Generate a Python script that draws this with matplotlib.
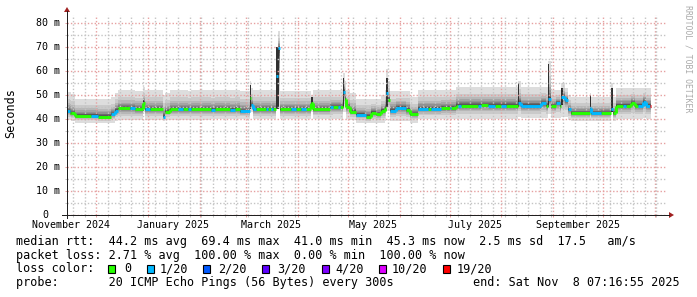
#!/usr/bin/python
"""Smokeping style 360 day latency graph (median rtt, smoke, loss colour)."""
import datetime as dt

import matplotlib
matplotlib.use("Agg")
from matplotlib import pyplot as plt
from matplotlib import dates as mdates
from matplotlib import ticker, transforms
from matplotlib.collections import LineCollection
from matplotlib.lines import Line2D
from matplotlib.patches import Polygon, Rectangle
import numpy as np

# Graph window ("Last 360 Days").
GRAPH_END = dt.datetime(2025, 11, 8, 7, 16, 55)
GRAPH_START = GRAPH_END - dt.timedelta(days=360)

# Consolidated data, one row per stretch of equal value.
seg_start = [
    "2024-11-13", "2024-11-15", "2024-11-16", "2024-11-18", "2024-11-28", "2024-12-02",
    "2024-12-10", "2024-12-12", "2024-12-14", "2024-12-21", "2024-12-24", "2024-12-29",
    "2024-12-30", "2025-01-02", "2025-01-10", "2025-01-11", "2025-01-14", "2025-01-19",
    "2025-01-22", "2025-01-25", "2025-01-27", "2025-02-08", "2025-02-10", "2025-02-19",
    "2025-02-22", "2025-02-25", "2025-03-03", "2025-03-04", "2025-03-05", "2025-03-07",
    "2025-03-13", "2025-03-14", "2025-03-16", "2025-03-17", "2025-03-19", "2025-03-20",
    "2025-03-21", "2025-03-28", "2025-03-31", "2025-04-03", "2025-04-06", "2025-04-09",
    "2025-04-10", "2025-04-20", "2025-04-22", "2025-04-25", "2025-04-26", "2025-04-28",
    "2025-04-29", "2025-04-30", "2025-05-02", "2025-05-06", "2025-05-12", "2025-05-15",
    "2025-05-18", "2025-05-21", "2025-05-23", "2025-05-24", "2025-05-25", "2025-05-26",
    "2025-05-30", "2025-06-05", "2025-06-07", "2025-06-12", "2025-06-18", "2025-06-20",
    "2025-06-26", "2025-07-01", "2025-07-02", "2025-07-05", "2025-07-06", "2025-07-08",
    "2025-07-18", "2025-07-20", "2025-07-24", "2025-07-28", "2025-08-01", "2025-08-04",
    "2025-08-11", "2025-08-13", "2025-08-25", "2025-08-28", "2025-08-29", "2025-08-31",
    "2025-09-03", "2025-09-05", "2025-09-06", "2025-09-08", "2025-09-10", "2025-09-12",
    "2025-09-23", "2025-09-24", "2025-09-30", "2025-10-06", "2025-10-07", "2025-10-09",
    "2025-10-13", "2025-10-15", "2025-10-18", "2025-10-20", "2025-10-22", "2025-10-25",
    "2025-10-27", "2025-10-29",
]
data_end = "2025-10-30"

# median rtt in ms
median_ms = [
    43.2, 42.6, 42.3, 41.3, 41.3, 41.0,
    42.0, 43.5, 44.4, 44.4, 44.2, 46.5,
    44.0, 44.0, 41.0, 43.0, 44.0, 44.0,
    44.0, 44.0, 44.0, 43.8, 44.0, 43.8,
    44.0, 43.3, 48.9, 45.8, 44.0, 44.0,
    44.0, 44.0, 44.0, 44.0, 57.9, 69.4,
    44.0, 44.0, 44.0, 44.0, 44.0, 46.5,
    44.0, 44.9, 45.0, 45.0, 45.0, 51.4,
    48.3, 45.0, 43.0, 41.8, 41.0, 42.7,
    42.0, 43.5, 44.5, 51.0, 48.0, 43.5,
    44.7, 43.8, 42.0, 44.2, 44.2, 44.2,
    44.7, 44.7, 44.7, 45.6, 45.6, 45.6,
    45.6, 45.8, 45.6, 45.6, 45.6, 45.6,
    46.7, 45.5, 46.7, 45.5, 48.3, 45.5,
    46.7, 45.5, 49.3, 48.0, 44.0, 42.4,
    44.5, 42.4, 42.5, 44.0, 42.4, 45.5,
    45.5, 45.5, 46.7, 45.5, 45.5, 47.2,
    45.5, 45.5,
]

# lost pings out of 20 (picks the line colour)
loss_pings = [
    1, 0, 0, 0, 1, 0,
    1, 1, 0, 1, 0, 0,
    1, 0, 1, 0, 0, 1,
    0, 1, 0, 1, 0, 1,
    0, 1, 0, 1, 1, 0,
    1, 0, 1, 0, 1, 1,
    0, 1, 0, 1, 0, 0,
    0, 1, 0, 1, 0, 1,
    0, 0, 0, 1, 0, 0,
    0, 0, 0, 1, 0, 1,
    1, 0, 0, 1, 0, 1,
    0, 1, 0, 0, 1, 0,
    1, 0, 1, 0, 1, 0,
    1, 1, 1, 0, 1, 0,
    1, 0, 1, 1, 1, 0,
    1, 1, 0, 1, 0, 0,
    1, 0, 0, 0, 1, 1,
    1, 19,
]

# fastest and slowest ping (edges of the smoke) in ms
smoke_lo = [
    39.5, 39.5, 39.0, 38.3, 38.3, 38.3,
    38.5, 39.0, 39.5, 39.5, 39.5, 43.0,
    39.5, 39.5, 39.0, 39.5, 39.5, 39.5,
    39.5, 39.5, 39.5, 39.8, 39.8, 39.8,
    39.8, 39.8, 43.0, 43.0, 39.8, 39.8,
    39.8, 39.8, 39.8, 39.8, 44.0, 44.0,
    39.8, 39.8, 39.8, 39.8, 39.8, 43.0,
    40.0, 40.0, 40.0, 40.0, 40.0, 43.0,
    43.0, 40.0, 39.5, 38.2, 38.2, 38.2,
    38.2, 38.5, 39.0, 43.5, 43.5, 39.0,
    39.0, 39.0, 38.5, 39.8, 39.8, 39.8,
    39.8, 39.8, 39.8, 40.0, 40.0, 40.0,
    40.0, 40.0, 40.0, 40.0, 40.0, 40.0,
    41.0, 40.3, 40.3, 40.3, 42.0, 40.5,
    40.5, 40.5, 41.0, 41.0, 39.5, 39.0,
    39.0, 39.0, 39.0, 43.0, 39.0, 40.0,
    40.0, 40.0, 40.0, 40.0, 40.0, 40.5,
    40.0, 40.0,
]
smoke_hi = [
    51.3, 51.3, 50.5, 48.5, 48.5, 48.5,
    49.0, 51.0, 52.0, 52.0, 51.5, 53.5,
    52.0, 52.0, 50.0, 51.0, 52.0, 52.0,
    52.0, 51.5, 52.0, 52.0, 52.0, 52.0,
    52.0, 51.5, 56.0, 53.0, 52.0, 52.0,
    52.0, 52.0, 52.0, 52.0, 70.0, 76.5,
    51.5, 51.5, 51.5, 51.5, 51.5, 50.0,
    52.0, 52.0, 52.0, 52.0, 52.0, 59.0,
    56.0, 52.0, 51.0, 48.5, 48.5, 48.5,
    48.5, 50.0, 52.0, 61.0, 56.0, 51.5,
    51.5, 51.5, 49.0, 52.0, 52.0, 52.0,
    52.0, 52.0, 52.0, 53.5, 53.5, 53.5,
    53.5, 53.5, 53.5, 53.5, 53.5, 53.5,
    56.0, 53.5, 53.5, 53.5, 64.0, 52.0,
    52.0, 52.0, 55.0, 53.0, 50.0, 49.0,
    51.0, 49.0, 49.0, 55.0, 49.0, 53.0,
    53.0, 53.0, 53.0, 53.0, 53.0, 53.0,
    53.0, 53.0,
]

# Days where the pings were spread wide: the smoke turns into a dark streak.
streak_start = ["2024-12-29", "2025-03-03", "2025-03-19", "2025-04-09", "2025-04-28",
                "2025-05-24", "2025-08-11", "2025-08-29", "2025-09-06", "2025-09-23",
                "2025-10-06"]
streak_days = [0.7, 0.7, 1.5, 0.7, 0.8, 0.8, 0.7, 0.7, 0.7, 0.7, 0.7]
streak_lo = [43.5, 44.0, 44.0, 44.0, 44.5, 45.0, 45.0, 45.0, 46.0, 43.0, 43.0]
streak_hi = [48.0, 54.0, 70.0, 49.0, 57.0, 57.0, 55.0, 63.0, 53.0, 50.0, 53.0]

y_ticks = [0, 10, 20, 30, 40, 50, 60, 70, 80]
y_tick_labels = ["0", "10 m", "20 m", "30 m", "40 m", "50 m", "60 m", "70 m", "80 m"]
month_labels = ["November 2024", "January 2025", "March 2025",
                "May 2025", "July 2025", "September 2025"]
month_label_dates = ["2024-11-16", "2025-01-16", "2025-03-16",
                     "2025-05-16", "2025-07-16", "2025-09-16"]

loss_levels = [0, 1, 2, 3, 4, 10, 19]
loss_names = ["0", "1/20", "2/20", "3/20", "4/20", "10/20", "19/20"]
loss_colors = ["#26ff00", "#00b8ff", "#0059ff", "#5e00ff", "#7e00ff", "#dd00ff", "#ff0000"]

legend_rtt = "median rtt:  44.2 ms avg  69.4 ms max  41.0 ms min  45.3 ms now  2.5 ms sd  17.5   am/s"
legend_loss = "packet loss: 2.71 % avg  100.00 % max  0.00 % min  100.00 % now"
legend_probe = "probe:       20 ICMP Echo Pings (56 Bytes) every 300s"
legend_end = "end: Sat Nov  8 07:16:55 2025"

# Styling.
W, H = 697, 297
MONO = "DejaVu Sans Mono"
GRID = "#c4c4c4"
MGRID = "#e6a0a0"
ARROW = "#a02020"
# how far each of the 10 smoke layers reaches (outer -> inner)
SMOKE_SPREAD = [1.0, 0.62, 0.44, 0.32, 0.24, 0.17, 0.12, 0.08, 0.05, 0.025]


def fx(px):
    return px / W


def fy(py):
    return 1 - py / H


def to_num(days):
    return mdates.date2num([dt.datetime.strptime(d, "%Y-%m-%d") for d in days])


def median_segments(t, med, loss, level):
    """Horizontal pieces of one loss colour, joined when neighbours are close."""
    segs = []
    for i in range(len(med) - 1):
        if loss[i] != level:
            continue
        if i > 0 and loss[i - 1] == level and abs(med[i] - med[i - 1]) < 4:
            segs.append([(t[i], med[i - 1]), (t[i], med[i])])
        segs.append([(t[i], med[i]), (t[i + 1], med[i])])
    return segs


def main():
    fig = plt.figure(figsize=(W / 100, H / 100), dpi=100)
    fig.patch.set_facecolor("white")

    ax = fig.add_axes([fx(67), fy(215), 600 / W, 200 / H])
    ax.set_xlim(mdates.date2num(GRAPH_START), mdates.date2num(GRAPH_END))
    ax.set_ylim(0, 200 / 2.4)
    for spine in ax.spines.values():
        spine.set_visible(False)

    t = to_num(seg_start + [data_end])
    med = np.array(median_ms + median_ms[-1:])
    lo = np.array(smoke_lo + smoke_lo[-1:])
    hi = np.array(smoke_hi + smoke_hi[-1:])
    loss = np.array(loss_pings + loss_pings[-1:])

    # Smoke: outer pings light grey, inner ones darker.
    half = len(SMOKE_SPREAD)
    for i, f in enumerate(SMOKE_SPREAD, start=1):
        grey = int(190 / half * (half - i)) + 50
        shade = "#%02x%02x%02x" % (grey, grey, grey)
        ax.fill_between(t, med - f * (med - lo), med + f * (hi - med),
                        step="post", color=shade, lw=0, zorder=1)

    # Dark streaks on the days with a wide spread.
    for start, days, s_lo, s_hi in zip(to_num(streak_start), streak_days, streak_lo, streak_hi):
        ax.fill_between([start, start + days], [s_lo, s_lo], [s_hi, s_hi],
                        color="#303030", lw=0, zorder=1.5)

    # Median line, one colour per loss level.
    for level, color in zip(loss_levels, loss_colors):
        segs = median_segments(t, med, loss, level)
        if segs:
            ax.add_collection(LineCollection(segs, colors=color, linewidths=2.1,
                                             capstyle="butt", zorder=3))

    # Grid: months red, weeks grey, 10 ms red, 5 ms grey (dotted).
    ax.xaxis.set_major_locator(mdates.MonthLocator())
    ax.xaxis.set_minor_locator(mdates.WeekdayLocator(byweekday=mdates.SU))
    ax.yaxis.set_major_locator(ticker.MultipleLocator(10))
    ax.yaxis.set_minor_locator(ticker.MultipleLocator(5))
    ax.set_axisbelow(False)
    ax.grid(which="major", color=MGRID, lw=1.0, dashes=(1.0, 1.44))
    ax.grid(which="minor", color=GRID, lw=1.0, dashes=(1.0, 1.44))
    ax.tick_params(which="both", direction="out", length=1.5, width=0.72,
                   labelbottom=False, labelleft=False)
    ax.tick_params(which="major", color=MGRID)
    ax.tick_params(which="minor", color=GRID)

    # Axis lines with arrows.
    axis_kw = dict(color="#202020", lw=0.72, transform=fig.transFigure)
    fig.add_artist(Line2D([fx(62), fx(669)], [fy(215), fy(215)], **axis_kw))
    fig.add_artist(Line2D([fx(67), fx(67)], [fy(218), fy(11)], **axis_kw))
    fig.add_artist(Polygon([[fx(674), fy(215)], [fx(669), fy(212)], [fx(669), fy(218)]],
                           closed=True, color=ARROW, lw=0, transform=fig.transFigure))
    fig.add_artist(Polygon([[fx(67), fy(7)], [fx(64), fy(12)], [fx(70), fy(12)]],
                           closed=True, color=ARROW, lw=0, transform=fig.transFigure))

    # Tick labels.
    x_trans = transforms.blended_transform_factory(ax.transData, fig.transFigure)
    for name, day in zip(month_labels, to_num(month_label_dates)):
        ax.text(day, fy(228), name, transform=x_trans, ha="center", va="baseline",
                fontsize=7.2, family=MONO, color="black")
    y_trans = transforms.offset_copy(
        transforms.blended_transform_factory(fig.transFigure, ax.transData),
        fig=fig, y=-3.5, units="dots")
    for value, label in zip(y_ticks, y_tick_labels):
        x_right = 60 if label.endswith("m") else 48
        ax.text(fx(x_right), value, label, transform=y_trans, ha="right", va="baseline",
                fontsize=7.2, family=MONO, color="black")

    fig.text(fx(11), fy(113), "Seconds", rotation=90, ha="center", va="center",
             fontsize=8.5, family=MONO)
    fig.text(fx(688), fy(59), "RRDTOOL / TOBI OETIKER", rotation=270, ha="center",
             va="center", fontsize=5.9, family=MONO, color="#aaaaaa")

    # Legend block.
    text_kw = dict(fontsize=8.5, family=MONO, va="baseline", color="black")
    fig.text(fx(16), fy(245), legend_rtt, **text_kw)
    fig.text(fx(16), fy(258.5), legend_loss, **text_kw)
    fig.text(fx(16), fy(272.5), "loss color:", **text_kw)
    box_x = [108, 147, 203, 262, 322, 379, 443]
    label_x = [124, 160, 218, 277, 335, 392, 457]
    for bx, lx, name, color in zip(box_x, label_x, loss_names, loss_colors):
        fig.add_artist(Rectangle((fx(bx), fy(272.5)), 7 / W, 7.5 / H, facecolor=color,
                                 edgecolor="black", lw=0.8, transform=fig.transFigure))
        fig.text(fx(lx), fy(272.5), name, **text_kw)
    fig.text(fx(16), fy(286), legend_probe, **text_kw)
    fig.text(fx(680), fy(286), legend_end, ha="right", **text_kw)

    fig.savefig("out.png", dpi=100)


if __name__ == "__main__":
    main()
